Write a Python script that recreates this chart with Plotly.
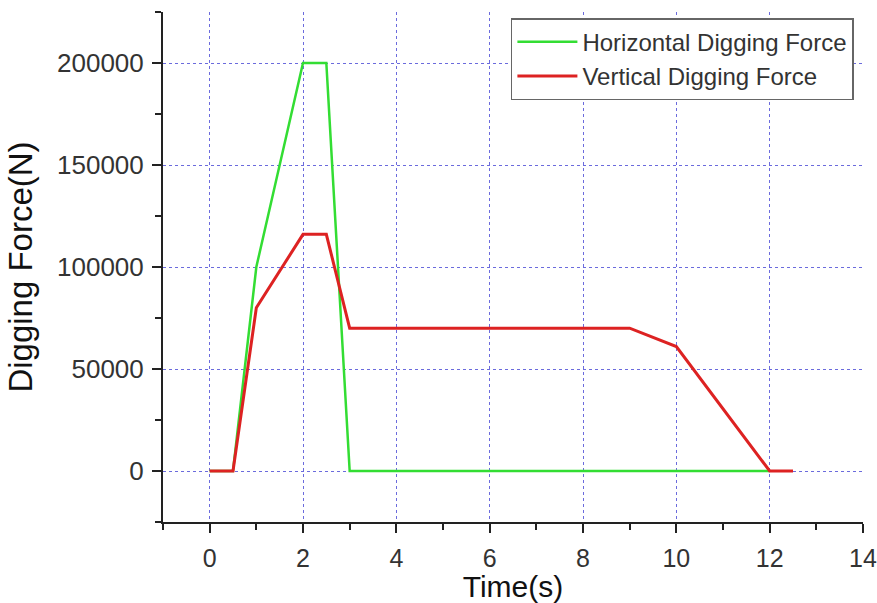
import plotly.graph_objects as go

time_h = [0, 0.5, 1, 2, 2.5, 3, 12]
force_h = [0, 0, 100000, 200000, 200000, 0, 0]
time_v = [0, 0.5, 1, 2, 2.5, 3, 9, 10, 12, 12.5]
force_v = [0, 0, 80000, 116000, 116000, 70000, 70000, 61000, 0, 0]
x_ticks = [0, 2, 4, 6, 8, 10, 12, 14]
y_ticks = [0, 50000, 100000, 150000, 200000]

fig = go.Figure()
fig.add_trace(go.Scatter(x=time_h, y=force_h, mode="lines", name="Horizontal Digging Force",
                         line=dict(color="#33dd33", width=2.5)))
fig.add_trace(go.Scatter(x=time_v, y=force_v, mode="lines", name="Vertical Digging Force",
                         line=dict(color="#dd2222", width=3)))

font = "Arial, Liberation Sans, sans-serif"
fig.update_layout(
    width=877, height=603,
    margin=dict(l=163, r=14, t=12, b=81),
    plot_bgcolor="white", paper_bgcolor="white",
    font=dict(family=font, color="#333333", size=18),
    legend=dict(x=0.987, y=0.988, xanchor="right", yanchor="top",
                bordercolor="#666666", borderwidth=1.5, bgcolor="white",
                font=dict(size=24, color="#333333"), tracegroupgap=0, itemwidth=60),
    xaxis=dict(range=[-1, 14], tickvals=x_ticks, showgrid=True, gridcolor="#6b6bdd",
               griddash="dot", gridwidth=1, zeroline=False, showline=True, automargin=False,
               linecolor="#222222", linewidth=2, ticks="outside", ticklen=9, tickwidth=2,
               tickcolor="#222222", tickfont=dict(size=25), ticklabelstandoff=4,
               minor=dict(dtick=1, tick0=0, ticks="outside", ticklen=6, tickwidth=2,
                          tickcolor="#222222", showgrid=False),
               title=dict(text="Time(s)", font=dict(size=30, color="#111111"), standoff=2)),
    yaxis=dict(range=[-25000, 225000], tickvals=y_ticks, showgrid=True, gridcolor="#6b6bdd",
               griddash="dot", gridwidth=1, zeroline=False, showline=True, automargin=False,
               linecolor="#222222", linewidth=2, ticks="outside", ticklen=9, tickwidth=2,
               tickcolor="#222222", tickfont=dict(size=26), tickformat="d", ticklabelstandoff=3,
               minor=dict(dtick=25000, tick0=0, ticks="outside", ticklen=6, tickwidth=2,
                          tickcolor="#222222", showgrid=False),
               title=dict(text="Digging Force(N)", font=dict(size=33, color="#111111"), standoff=14)),
)
fig.write_html("out.html")
